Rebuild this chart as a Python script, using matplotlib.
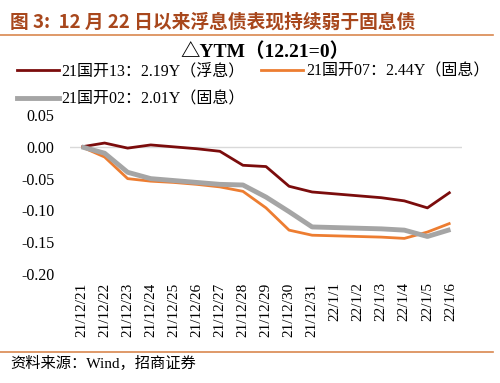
import matplotlib.pyplot as plt
from matplotlib.lines import Line2D

plt.rcParams['font.family'] = ['Liberation Serif', 'Noto Sans CJK SC', 'DejaVu Sans']

dates = ['21/12/21', '21/12/22', '21/12/23', '21/12/24', '21/12/25', '21/12/26',
         '21/12/27', '21/12/28', '21/12/29', '21/12/30', '21/12/31', '22/1/1',
         '22/1/2', '22/1/3', '22/1/4', '22/1/5', '22/1/6']

gk13 = [0.000, 0.006, -0.002, 0.003, 0.000, -0.003, -0.007, -0.029, -0.031,
        -0.062, -0.071, -0.074, -0.077, -0.080, -0.085, -0.096, -0.071]
gk07 = [0.000, -0.016, -0.050, -0.054, -0.056, -0.059, -0.063, -0.070, -0.096,
        -0.131, -0.139, -0.140, -0.141, -0.142, -0.144, -0.134, -0.120]
gk02 = [0.000, -0.010, -0.040, -0.050, -0.053, -0.056, -0.059, -0.060, -0.079,
        -0.102, -0.126, -0.127, -0.128, -0.129, -0.131, -0.141, -0.130]

labels = ['21国开13：2.19Y（浮息）', '21国开07：2.44Y（固息）', '21国开02：2.01Y（固息）']
colors = ['#7B0C0C', '#ED7D31', '#A5A5A5']
widths = [2.0, 2.0, 3.5]

fig = plt.figure(figsize=(5.0, 3.83), dpi=100)
ax = fig.add_axes([0.14, 0.2846, 0.784, 0.415])

x = range(len(dates))
for vals, c, w in zip([gk13, gk07, gk02], colors, widths):
    ax.plot(x, vals, color=c, linewidth=w, solid_capstyle='butt')

ax.axhline(0, color='#D9D9D9', linewidth=1, zorder=0)
ax.set_xlim(-0.5, len(dates) - 0.5)
ax.set_ylim(-0.2, 0.05)
ax.set_yticks([0.05, 0.0, -0.05, -0.10, -0.15, -0.20])
ax.set_yticklabels(['0.05', '0.00', '-0.05', '-0.10', '-0.15', '-0.20'], fontsize=11.5)
ax.set_xticks(list(x))
ax.set_xticklabels(dates, rotation=90, fontsize=11, va='top')
ax.tick_params(length=0)
ax.tick_params(axis='x', pad=6)
ax.tick_params(axis='y', pad=11)
for s in ax.spines.values():
    s.set_visible(False)

# headings
fig.text(0.02, 0.942, '图 3:  12 月 22 日以来浮息债表现持续弱于固息债',
         fontsize=13.5, fontweight='bold', color='#A8471C',
         family=['Noto Sans CJK SC'], va='center')
fig.add_artist(Line2D([0.0, 0.985], [0.908, 0.908], color='#D9874F', linewidth=1.2))
fig.text(0.53, 0.864, '△YTM（12.21=0）', fontsize=14, fontweight='bold',
         ha='center', va='center')

handles = [Line2D([], [], color=c, linewidth=w) for c, w in zip(colors, widths)]
order = [0, 2, 1]
fig.legend([handles[i] for i in order], [labels[i] for i in order],
           loc='upper left', bbox_to_anchor=(0.034, 0.835), ncol=2,
           frameon=False, fontsize=11.5, handlelength=2.6, handletextpad=0.2,
           columnspacing=1.0, labelspacing=0.75, borderaxespad=0, borderpad=0)

fig.add_artist(Line2D([0.0, 0.985], [0.081, 0.081], color='#D9874F', linewidth=1.2))
fig.text(0.02, 0.05, '资料来源：Wind，招商证券', fontsize=11, va='center')

fig.savefig('out.png', dpi=100)
